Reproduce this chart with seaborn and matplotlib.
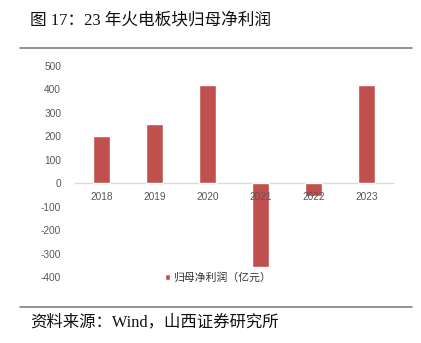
import matplotlib
matplotlib.use("Agg")
import matplotlib.pyplot as plt
import seaborn as sns
import pandas as pd
from matplotlib.lines import Line2D

years = ["2018", "2019", "2020", "2021", "2022", "2023"]
profit = [200, 254, 420, -358, -54, 420]
yticks = [-400, -300, -200, -100, 0, 100, 200, 300, 400, 500]
series_name = "归母净利润（亿元）"
title = "图 17：23 年火电板块归母净利润"
source = "资料来源：Wind，山西证券研究所"

sns.set_theme(style="white")
plt.rcParams['font.family'] = ['Noto Sans CJK SC', 'DejaVu Sans']

df = pd.DataFrame({"year": years, "profit": profit})

fig = plt.figure(figsize=(4.21, 3.43), dpi=100)
ax = fig.add_axes([75/421, 1-277/343, 318/421, 211/343])

sns.barplot(data=df, x="year", y="profit", color="#C0504D", saturation=1,
            width=0.32, label=series_name, ax=ax)

ax.set_axisbelow(False)
ax.set_ylim(-400, 500)
ax.set_xlim(-0.5, 5.5)
ax.set_yticks(yticks)
ax.set_yticklabels([str(v) for v in yticks], fontsize=7.3, color="#595959",
                   family=['Liberation Sans', 'DejaVu Sans'])
ax.set_xlabel("")
ax.set_ylabel("")
for s in ["left", "right", "top"]:
    ax.spines[s].set_visible(False)
ax.spines["bottom"].set_position(("data", 0))
ax.spines["bottom"].set_color("#D9D9D9")
ax.spines["bottom"].set_linewidth(1.0)
ax.spines["bottom"].set_zorder(0.5)
ax.tick_params(axis="x", length=0, pad=6, labelsize=7.3, labelcolor="#595959")
ax.tick_params(axis="y", length=0, pad=10)
for lab in ax.get_xticklabels():
    lab.set_family(['Liberation Sans', 'DejaVu Sans'])

leg = ax.legend(loc="lower center", bbox_to_anchor=(0.45, -0.075), frameon=False,
                fontsize=7.8, handlelength=0.5, handleheight=0.5, handletextpad=0.3,
                labelcolor="#333333")

fig.text(30/421, 1-21/343, title, fontsize=12, va="center", ha="left",
         family=['Liberation Serif', 'Noto Sans CJK SC'], color="#111111")
fig.text(30/421, 1-322/343, source, fontsize=11.8, va="center", ha="left",
         family=['Liberation Serif', 'Noto Sans CJK SC'], color="#111111")

fig.add_artist(Line2D([20/421, 412/421], [1-47.5/343, 1-47.5/343],
                      color="#808080", linewidth=1.2, transform=fig.transFigure))
fig.add_artist(Line2D([20/421, 412/421], [1-306.5/343, 1-306.5/343],
                      color="#808080", linewidth=1.2, transform=fig.transFigure))

fig.savefig("out.png", dpi=100)
